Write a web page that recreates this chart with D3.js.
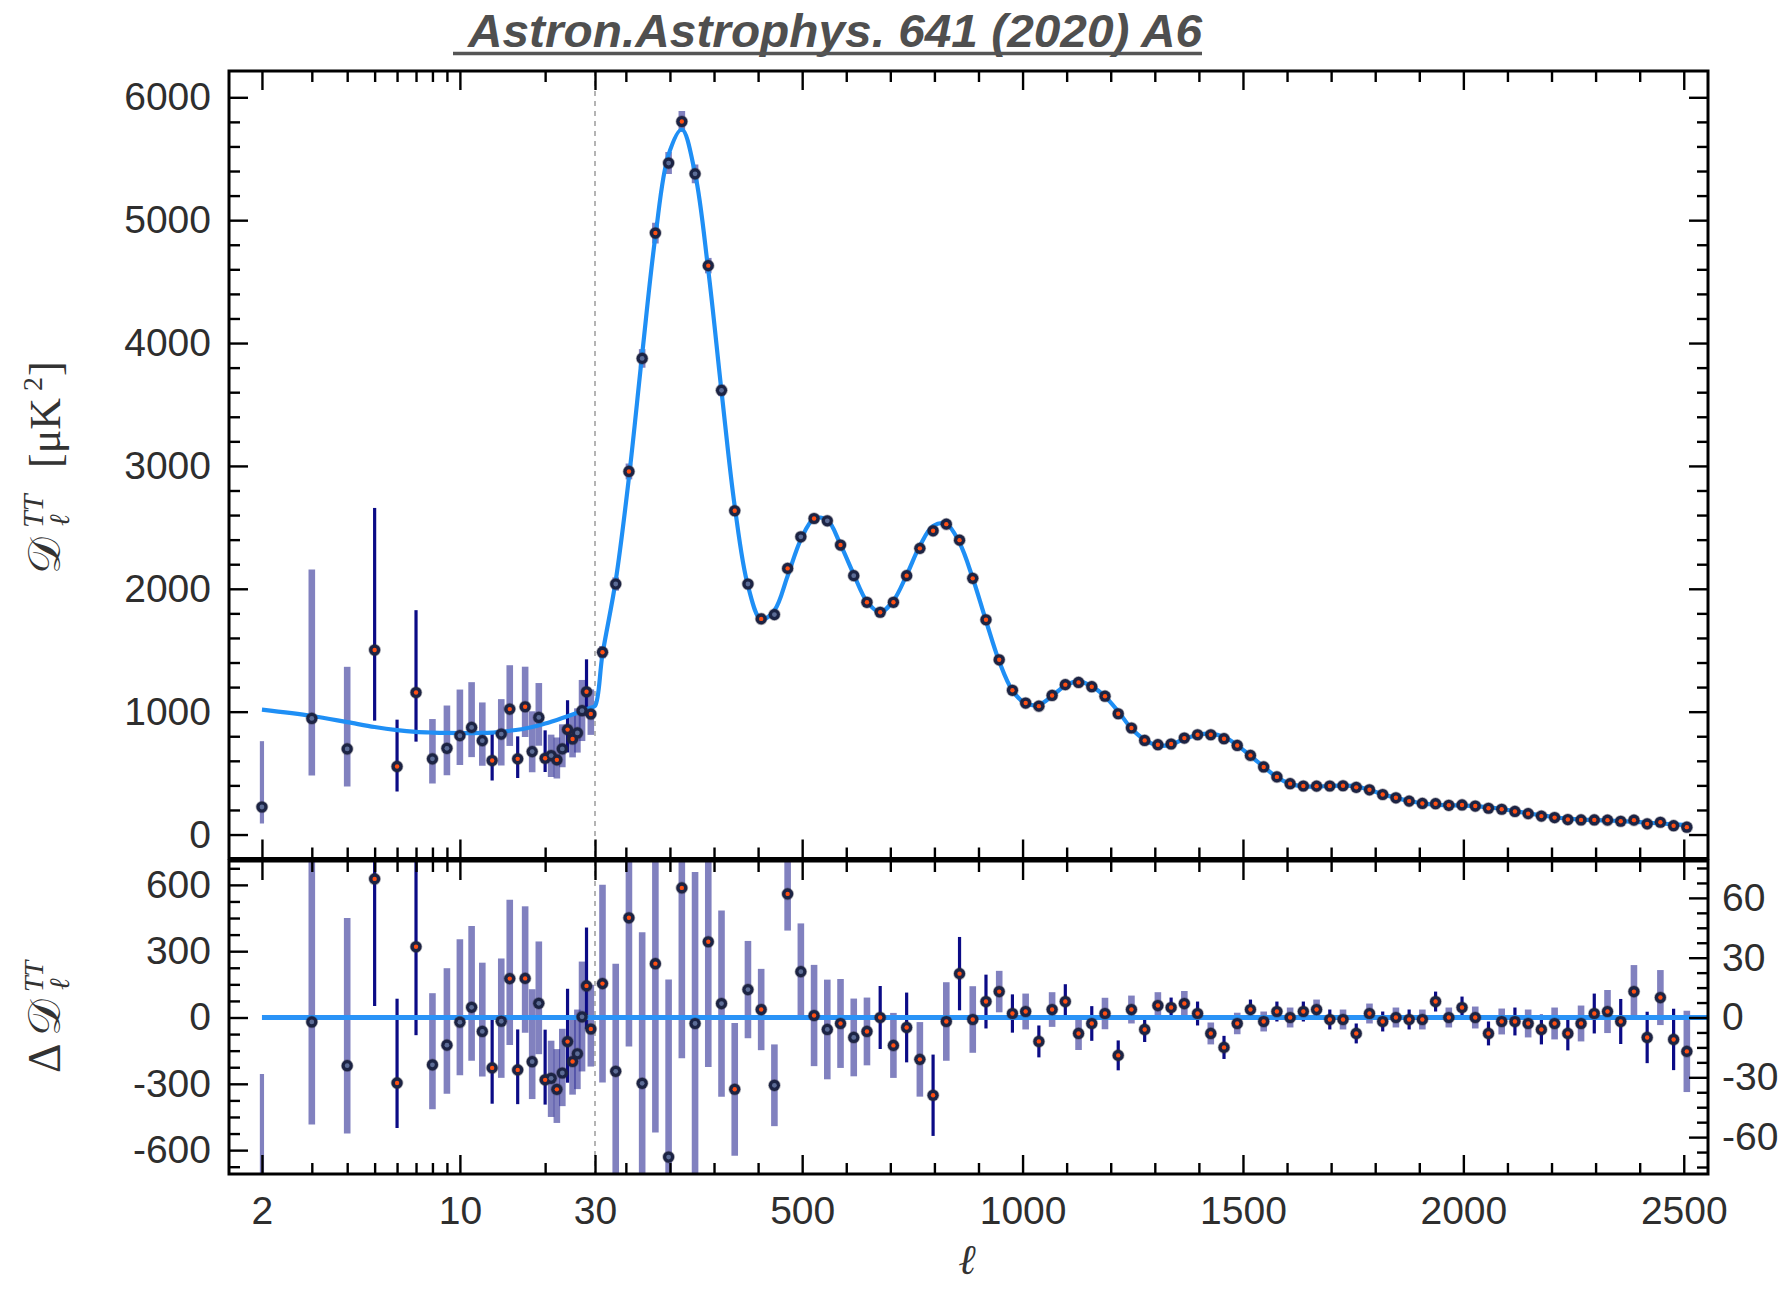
<!DOCTYPE html>
<html><head><meta charset="utf-8">
<script src="https://cdn.jsdelivr.net/npm/d3@7"></script>
<style>html,body{margin:0;padding:0;background:#fff;}svg{display:block;}</style>
</head><body>
<svg id="chart" width="1781" height="1289"></svg>
<script>
// ---------------- DATA ----------------
// Low-ell (unbinned) multipoles 2..29
const lowEll = [2,3,4,5,6,7,8,9,10,11,12,13,14,15,16,17,18,19,20,21,22,23,24,25,26,27,28,29];
const lowD = [224,945,697,1502,554,1156,616,702,805,872,764,602,818,1021,616,1040,675,953,621,643,608,697,854,778,827,1008,1162,981];
const lowErrPlus = [536,1211,668,1156,381,670,324,348,375,368,311,228,284,357,183,326,328,280,227,170,182,200,239,200,200,250,264,200];
const lowErrMinus = [134,464,307,575,204,400,201,220,240,242,204,162,256,300,155,246,169,230,112,175,152,150,186,150,160,247,195,170];
const lowModel = [1016,965,915,875,850,836,830,827,826,826,827,830,835,845,853,863,875,889,903,918,933,948,963,977,991,1005,1019,1033];
const lowDarkBar = [0,0,0,1,1,1,0,0,0,0,0,1,0,0,1,0,0,0,1,0,0,0,1,0,0,0,1,0];
const lowOrange  = [0,0,0,1,1,1,0,0,0,0,0,1,0,1,1,1,0,0,1,0,1,0,1,1,0,0,1,1];
// model value at the log/linear boundary (ell = 30)
const boundaryEll = 30, boundaryModel = 1046;
// High-ell bins (delta ell = 30)
const binEll = [47,77,107,137,167,197,227,257,287,317,347,377,407,437,467,497,527,557,587,617,647,677,707,737,767,797,827,857,887,917,947,977,1007,1037,1067,1097,1127,1157,1187,1217,1247,1277,1307,1337,1367,1397,1427,1457,1487,1517,1547,1577,1607,1637,1667,1697,1727,1757,1787,1817,1847,1877,1907,1937,1967,1997,2027,2057,2087,2117,2147,2177,2207,2237,2267,2297,2327,2357,2387,2417,2447,2477,2507];
const binModel = [1467,2066,2905,3908,4868,5535,5738,5380,4592,3608,2671,2025,1751,1824,2104,2400,2571,2559,2359,2117,1897,1809,1904,2112,2350,2511,2528,2374,2086,1740,1409,1172,1067,1057,1128,1212,1246,1206,1124,1002,863,772,725,732,778,810,820,795,728,640,552,466,414,392,390,396,398,392,362,328,299,273,254,243,238,236,232,222,208,190,173,156,141,130,122,117,114,110,104,97,90,83,77];
const binD = [1484,2039,2955,3875,4895,5465,5803,5377,4630,3615,2635,2039,1755,1790,2166,2423,2572,2553,2356,2107,1890,1809,1890,2107,2329,2472,2526,2396,2085,1748,1422,1174,1070,1045,1132,1220,1238,1203,1126,983,867,766,731,737,785,812,812,780,725,644,550,469,414,395,394,395,397,384,364,326,299,272,253,251,238,241,232,214,206,188,170,150,138,122,119,119,117,108,117,87,100,72,60];
const binErr = [49.6,54,64.5,75.8,84.7,89,85.5,76,62.8,46.7,33.3,24.4,20.4,20.5,18.4,24.2,25.4,25,22.3,19.5,17,15.8,16.3,17.5,18.7,20.4,19.7,18.4,16.7,13.5,10.4,9.6,9,8,8.7,8.7,8.3,8.7,7.9,7.5,7,6.3,6.7,5,6.3,6,5.5,5.8,5.4,5,5,5,5,5,5,5,5,5,5,5,5,5,5,5,5,5.5,5.5,6,6.5,7,7,7.5,8,8.5,9,10,10.8,11.3,13.3,12.9,13.8,15.4,20.4];
// tick labels
const topYTicks = [0,1000,2000,3000,4000,5000,6000];
const resLeftTicks = [-600,-300,0,300,600];
const resRightTicks = [-60,-30,0,30,60];
const xLogTicks = [2,10,30];
const xLinTicks = [500,1000,1500,2000,2500];
const titleText = "Astron.Astrophys. 641 (2020) A6";

// ---------------- LAYOUT ----------------
const L = 229, R = 1708, T = 71, SEPT = 858.5, SEPB = 861, B = 1174;
const SANS = '"Liberation Sans", Arial, Helvetica, sans-serif';
const SERIF = '"Liberation Serif","DejaVu Serif","Times New Roman",serif';
const svg = d3.select('#chart');

const xLog = d3.scaleLog().domain([1.53, 30]).range([L, 595]);
const xLin = d3.scaleLinear().domain([30, 2555]).range([595, R]);
const X = l => l < 30 ? xLog(l) : xLin(l);
const yTop = d3.scaleLinear().domain([-195, 6214]).range([SEPT, T]);
const yResL = d3.scaleLinear().domain([-708, 708]).range([B, SEPB]);
const yResR = d3.scaleLinear().domain([-78.5, 78.5]).range([B, SEPB]);

const defs = svg.append('defs');
defs.append('clipPath').attr('id','clipTop').append('rect').attr('x',L).attr('y',T).attr('width',R-L).attr('height',SEPT-T);
defs.append('clipPath').attr('id','clipBot').append('rect').attr('x',L).attr('y',SEPB).attr('width',R-L).attr('height',B-SEPB);

const lowPts = lowEll.map((l,i)=>({l, d:lowD[i], hi:lowD[i]+lowErrPlus[i], lo:lowD[i]-lowErrMinus[i], m:lowModel[i], dark:lowDarkBar[i], orange:lowOrange[i], low:true}));
const binPts = binEll.map((l,i)=>({l, d:binD[i], hi:binD[i]+binErr[i], lo:binD[i]-binErr[i], m:binModel[i],
  dark: (i>=21 && i%2===1) ? 1 : 0, orange: (i<21 ? (i%2===0) : 1) ? 1 : 0, low:false}));
const allPts = lowPts.concat(binPts);

const DARK = '#0b0b86', LIGHT = 'rgb(52,52,152)';
function styleBar(sel){
  sel.attr('stroke', d=>d.dark?DARK:LIGHT)
     .attr('stroke-width', d=>d.dark?3.2:(d.l===2?4.2:6.6))
     .attr('stroke-opacity', d=>d.dark?1:0.62)
     .attr('stroke-linecap','butt');
}

// dashed boundary line at ell=30
svg.append('line').attr('x1',X(30)).attr('x2',X(30)).attr('y1',T).attr('y2',B)
  .attr('stroke','#b4b4b4').attr('stroke-width',2).attr('stroke-dasharray','5,5');

// ---------------- TOP PANEL ----------------
const gTop = svg.append('g').attr('clip-path','url(#clipTop)');
gTop.selectAll('line.eb').data(allPts).join('line').attr('class','eb')
  .attr('x1',d=>X(d.l)).attr('x2',d=>X(d.l)).attr('y1',d=>yTop(d.lo)).attr('y2',d=>yTop(d.hi)).call(styleBar);

const curvePts = lowEll.map((l,i)=>({l, v:lowModel[i]}))
  .concat([{l:boundaryEll, v:boundaryModel}])
  .concat(binEll.map((l,i)=>({l, v:binModel[i]})));
const line = d3.line().x(d=>X(d.l)).y(d=>yTop(d.v)).curve(d3.curveCatmullRom.alpha(0.5));
gTop.append('path').datum(curvePts).attr('d',line).attr('fill','none')
  .attr('stroke','#1f8ff5').attr('stroke-width',4.2);

function markers(g, yf){
  g.selectAll('circle.mk').data(allPts).join('circle').attr('class','mk')
    .attr('cx',d=>X(d.l)).attr('cy',yf).attr('r',5.6)
    .attr('fill','#1c2445').attr('stroke','rgba(40,40,60,0.35)').attr('stroke-width',1.5);
  g.selectAll('circle.ct').data(allPts).join('circle').attr('class','ct')
    .attr('cx',d=>X(d.l)).attr('cy',yf).attr('r',d=>d.orange?2.2:2.4)
    .attr('fill',d=>d.orange?'#ff4f12':'#5c6c96');
}
markers(gTop, d=>yTop(d.d));

// ---------------- BOTTOM PANEL ----------------
const gBot = svg.append('g').attr('clip-path','url(#clipBot)');
const yRes = d => d.low ? yResL : yResR;
gBot.selectAll('line.eb').data(allPts).join('line').attr('class','eb')
  .attr('x1',d=>X(d.l)).attr('x2',d=>X(d.l))
  .attr('y1',d=>yRes(d)(d.lo-d.m)).attr('y2',d=>yRes(d)(d.hi-d.m)).call(styleBar);
gBot.append('line').attr('x1',X(2)).attr('x2',R).attr('y1',yResL(0)).attr('y2',yResL(0))
  .attr('stroke','#2a93f7').attr('stroke-width',5);
markers(gBot, d=>yRes(d)(d.d-d.m));

// ---------------- FRAMES ----------------
svg.append('rect').attr('x',L).attr('y',T).attr('width',R-L).attr('height',SEPT-T)
  .attr('fill','none').attr('stroke','#000').attr('stroke-width',3);
svg.append('rect').attr('x',L).attr('y',SEPB).attr('width',R-L).attr('height',B-SEPB)
  .attr('fill','none').attr('stroke','#000').attr('stroke-width',3);

// ---------------- AXES ----------------
const MAJ = 19, MIN = 11;
function clean(g, labels){
  g.select('.domain').remove();
  g.attr('font-size',null).attr('font-family',null);
  g.selectAll('line').attr('stroke','#000').attr('stroke-width',2.4);
  g.selectAll('text').attr('font-family',SANS).attr('font-size',39).attr('fill','#2e2e2e');
  if(!labels) g.selectAll('text').remove();
}
const linMinor = d3.range(100,2600,100).filter(v=>v%500!==0);
const logMinor = [3,4,5,6,7,8,9,20];
function xTicks(axisFn, y, labels){
  [[xLog, xLogTicks, MAJ, labels], [xLog, logMinor, MIN, false], [xLin, xLinTicks, MAJ, labels], [xLin, linMinor, MIN, false]]
  .forEach(([sc, vals, len, lab])=>{
    const ax = axisFn(sc).tickValues(vals).tickSize(-len).tickPadding(22).tickFormat(d=>String(d));
    svg.append('g').attr('transform',`translate(0,${y})`).call(ax).call(g=>clean(g, lab));
  });
}
xTicks(d3.axisTop, T, false);
xTicks(d3.axisBottom, SEPT, false);
xTicks(d3.axisTop, SEPB, false);
xTicks(d3.axisBottom, B, true);

function yTicks(axisFn, x, sc, majors, minors, labels, pad){
  svg.append('g').attr('transform',`translate(${x},0)`)
    .call(axisFn(sc).tickValues(majors).tickSize(-MAJ).tickPadding(pad).tickFormat(d=>String(d)))
    .call(g=>clean(g, labels));
  svg.append('g').attr('transform',`translate(${x},0)`)
    .call(axisFn(sc).tickValues(minors).tickSize(-MIN))
    .call(g=>clean(g, false));
}
const topMinor = d3.range(200,6000,200).filter(v=>v%1000!==0);
yTicks(d3.axisLeft, L, yTop, topYTicks, topMinor, true, 18);
yTicks(d3.axisRight, R, yTop, topYTicks, topMinor, false, 14);
const resLMinor = d3.range(-675,700,75).filter(v=>v%300!==0);
yTicks(d3.axisLeft, L, yResL, resLeftTicks, resLMinor, true, 18);
const resRMinor = d3.range(-75,76,7.5).filter(v=>Math.abs(v%30)>0.01);
yTicks(d3.axisRight, R, yResR, resRightTicks, resRMinor, true, 14);

// ---------------- TITLES ----------------
svg.append('text').attr('x',468).attr('y',47).text(titleText)
  .attr('font-family',SANS).attr('font-weight','bold').attr('font-style','italic')
  .attr('font-size',46).attr('fill','#4f4f4f')
  .attr('textLength',734).attr('lengthAdjust','spacingAndGlyphs');
svg.append('line').attr('x1',453).attr('x2',1202).attr('y1',53.5).attr('y2',53.5)
  .attr('stroke','#555').attr('stroke-width',3.5);

// x-axis label
svg.append('text').attr('x',967).attr('y',1274).attr('text-anchor','middle')
  .attr('font-family',SERIF).attr('font-style','italic').attr('font-size',42).attr('fill','#333').text('ℓ');

// y-axis label, top panel
const yt = svg.append('g').attr('transform','translate(60,468) rotate(-90)')
  .attr('font-family',SERIF).attr('fill','#333');
yt.append('text').attr('x',-106).attr('y',0).attr('font-size',46).text('𝒟');
yt.append('text').attr('x',-60).attr('y',-17).attr('font-size',30).attr('font-style','italic').text('TT');
yt.append('text').attr('x',-58).attr('y',9).attr('font-size',28).attr('font-style','italic').text('ℓ');
yt.append('text').attr('x',0).attr('y',0).attr('font-size',44).text('[μK');
yt.append('text').attr('x',77).attr('y',-18).attr('font-size',28).text('2');
yt.append('text').attr('x',92).attr('y',0).attr('font-size',44).text(']');

// y-axis label, residual panel
const yb = svg.append('g').attr('transform','translate(60,1016) rotate(-90)')
  .attr('font-family',SERIF).attr('fill','#333');
yb.append('text').attr('x',-57).attr('y',0).attr('font-size',46).text('Δ');
yb.append('text').attr('x',-20).attr('y',0).attr('font-size',46).text('𝒟');
yb.append('text').attr('x',24).attr('y',-17).attr('font-size',28).attr('font-style','italic').text('TT');
yb.append('text').attr('x',26).attr('y',9).attr('font-size',28).attr('font-style','italic').text('ℓ');
</script>
</body></html>
